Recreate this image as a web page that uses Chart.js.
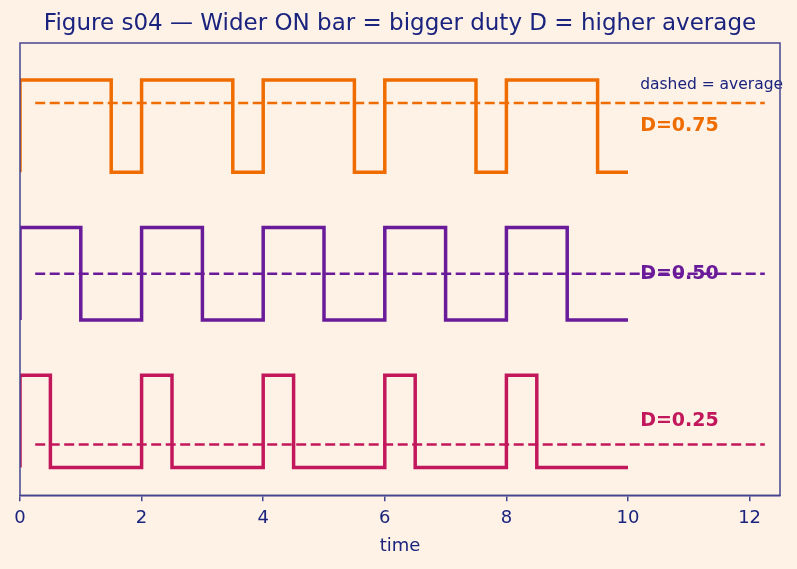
<!DOCTYPE html>
<html>
<head>
<meta charset="utf-8">
<script src="https://cdn.jsdelivr.net/npm/chart.js@4"></script>
<style>
  html, body { margin: 0; padding: 0; background: #fef1e6; }
  #wrap { width: 797px; height: 569px; }
</style>
</head>
<body>
<div id="wrap"><canvas id="dutyChart"></canvas></div>
<script>
// edge times of each square wave (state 1 = ON, 0 = OFF)
const timesD75 = [0, 0, 1.5, 2, 3.5, 4, 5.5, 6, 7.5, 8, 9.5, 10];
const timesD50 = [0, 0, 1, 2, 3, 4, 5, 6, 7, 8, 9, 10];
const timesD25 = [0, 0, 0.5, 2, 2.5, 4, 4.5, 6, 6.5, 8, 8.5, 10];
const states = [0, 1, 0, 1, 0, 1, 0, 1, 0, 1, 0, 0];

const duties = [0.75, 0.50, 0.25];
const dutyLabels = ['D=0.75', 'D=0.50', 'D=0.25'];
const avgStart = 0.25;
const avgEnd = 12.25;
const xTicks = [0, 2, 4, 6, 8, 10, 12];

// vertical offset of each trace so they stack
const offsets = [3.2, 1.6, 0];
const colors = ['#ef6c00', '#6a1b9a', '#c2185b'];
const navy = '#1a237e';
const frame = '#45458f';

function wavePoints(times, offset) {
    return times.map((t, i) => ({ x: t, y: offset + states[i] }));
}

const waves = [timesD75, timesD50, timesD25];
const datasets = [];
waves.forEach((times, i) => {
    datasets.push({
        data: wavePoints(times, offsets[i]),
        borderColor: colors[i],
        borderWidth: 3.5,
        stepped: 'before',
        pointRadius: 0,
        fill: false
    });
    datasets.push({
        data: [{ x: avgStart, y: offsets[i] + duties[i] }, { x: avgEnd, y: offsets[i] + duties[i] }],
        borderColor: colors[i],
        borderWidth: 2.5,
        borderDash: [10, 4.5],
        pointRadius: 0,
        fill: false
    });
});

// labels + frame around the plot area
const annotate = {
    id: 'annotate',
    beforeDatasetsDraw(chart) {
        const { ctx, scales } = chart;
        ctx.save();
        ctx.textBaseline = 'middle';
        ctx.textAlign = 'left';
        ctx.font = 'bold 19px "DejaVu Sans"';
        dutyLabels.forEach((txt, i) => {
            ctx.fillStyle = colors[i];
            ctx.fillText(txt, scales.x.getPixelForValue(10.2), scales.y.getPixelForValue(offsets[i] + 0.5));
        });
        ctx.font = '15.5px "DejaVu Sans"';
        ctx.fillStyle = navy;
        ctx.fillText('dashed = average', scales.x.getPixelForValue(10.2), scales.y.getPixelForValue(4.15));
        ctx.restore();
    },
    afterDraw(chart) {
        const { ctx, chartArea: a } = chart;
        ctx.save();
        ctx.strokeStyle = frame;
        ctx.lineWidth = 1.5;
        ctx.strokeRect(a.left, a.top, a.right - a.left, a.bottom - a.top);
        ctx.restore();
    }
};

new Chart(document.getElementById('dutyChart'), {
    type: 'line',
    data: { datasets: datasets },
    options: {
        responsive: true,
        maintainAspectRatio: false,
        animation: false,
        layout: { padding: { left: 20, right: 17, top: 0, bottom: 12 } },
        plugins: {
            legend: { display: false },
            tooltip: { enabled: false },
            title: {
                display: true,
                text: 'Figure s04 — Wider ON bar = bigger duty D = higher average',
                color: navy,
                font: { family: 'DejaVu Sans', size: 23, weight: 'normal' },
                padding: { top: 10, bottom: 5.4 }
            }
        },
        scales: {
            x: {
                type: 'linear',
                min: 0,
                max: 12.5,
                grid: { drawOnChartArea: false, drawTicks: true, tickLength: 6, color: frame, lineWidth: 1.5 },
                border: { display: true, color: frame, width: 1.5 },
                afterBuildTicks(scale) {
                    scale.ticks = xTicks.map(v => ({ value: v }));
                },
                ticks: {
                    color: navy,
                    font: { family: 'DejaVu Sans', size: 18 },
                    padding: 6,
                    maxRotation: 0
                },
                title: {
                    display: true,
                    text: 'time',
                    color: navy,
                    font: { family: 'DejaVu Sans', size: 18 },
                    padding: { top: 0.5, bottom: 0 }
                }
            },
            y: {
                display: false,
                min: -0.3,
                max: 4.6
            }
        }
    },
    plugins: [annotate]
});
</script>
</body>
</html>
